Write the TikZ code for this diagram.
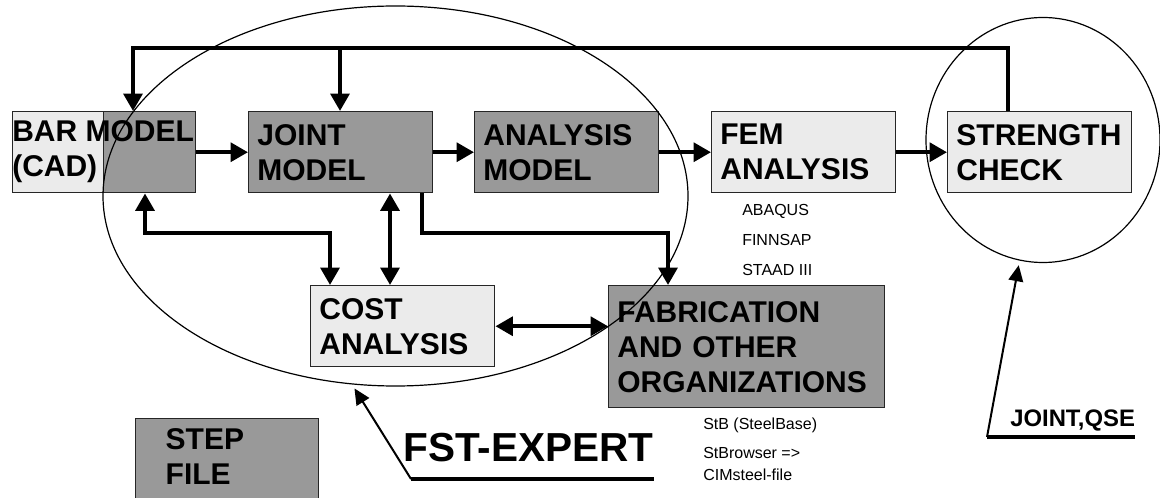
\documentclass[tikz,border=0pt]{standalone}
\usepackage{fontspec}
\setmainfont{Liberation Sans}
\usetikzlibrary{arrows.meta,shapes.geometric}
\definecolor{boxdark}{gray}{0.6}
\definecolor{boxlight}{gray}{0.92}
\newcommand\boxfont{\fontsize{22.5}{26.25}\selectfont\bfseries}
\newcommand\notefont{\fontsize{12}{14}\selectfont}

\begin{document}
\begin{tikzpicture}[x=0.75pt, y=-0.75pt, >={Triangle[length=13pt,width=14pt]},
  box/.style={draw=black!85, line width=1.1pt, anchor=north west, minimum height=60.75pt,
    inner xsep=6.5pt, inner ysep=0pt, text width=125pt, align=left, font=\boxfont},
  lbox/.style={box, fill=boxlight},
  dbox/.style={box, fill=boxdark},
  flow/.style={line width=3pt},
  zone/.style={draw, ellipse, line width=0.9pt, inner sep=0pt},
  note/.style={anchor=base west, inner sep=0pt, font=\notefont},
  callout/.style={line width=1.5pt, -{Triangle[length=12pt,width=11pt]}, shorten >=3.5pt},
  uline/.style={line width=2.5pt}]
\useasboundingbox (0,0) rectangle (1160,498);
\clip (0,0) rectangle (1160,498);
% upper row
\node[lbox, text width=68.25pt, inner xsep=0pt] (barcad) at (12,111) {};
\node[dbox, text width=69pt, inner xsep=0pt] (barmodel) at (103,111) {};
\node[anchor=north west, inner sep=0pt, align=left, font=\boxfont] (bartext) at (12,120) {BAR MODEL\\(CAD)};
\node[dbox] (joint) at (248,111) {JOINT\\MODEL};
\node[dbox] (anamodel) at (474,111) {ANALYSIS\\MODEL};
\node[lbox] (fem) at (711,111) {FEM\\ANALYSIS};
\node[lbox] (strength) at (947,111) {STRENGTH\\CHECK};
% lower row
\node[lbox] (cost) at (310,285) {COST\\ANALYSIS};
\node[dbox, text width=194pt, minimum height=91.5pt] (fab) at (608,285) {FABRICATION\\AND OTHER\\ORGANIZATIONS};
\node[dbox, inner xsep=22.5pt, text width=92pt, inner ysep=7.5pt, minimum height=0pt, text depth=60pt] (step) at (135,418) {STEP\\FILE};
% program names
\node[note] (abaqus) at (742,216) {ABAQUS};
\node[note] (finnsap) at (742,246) {FINNSAP};
\node[note] (staad) at (742,276) {STAAD III};
\node[note] (stb) at (703,430) {StB (SteelBase)};
\node[note] (stbrowser) at (703,459) {StBrowser =>};
\node[note] (cimsteel) at (703,481) {CIMsteel-file};
% flows
\draw[flow,->] (barmodel.east) -- (joint.west);
\draw[flow,->] (joint.east) -- (anamodel.west);
\draw[flow,->] (anamodel.east) -- (fem.west);
\draw[flow,->] (fem.east) -- (strength.west);
\coordinate (topR) at (1008,48);
\coordinate (topL) at (133,48);
\coordinate (topJ) at (340,48);
\draw[flow,->] (topR |- strength.north) -- (topR) -- (topL) -- (topL |- barmodel.north);
\draw[flow,->] (topJ) -- (topJ |- joint.north);
\coordinate (lowL) at (145,233);
\coordinate (lowC) at (330,233);
\coordinate (lowJ) at (422,233);
\coordinate (lowF) at (668,233);
\coordinate (jc) at (390,233);
\draw[flow,<->] (lowL |- barmodel.south) -- (lowL) -- (lowC) -- (lowC |- cost.north);
\draw[flow,<->] (jc |- joint.south) -- (jc |- cost.north);
\draw[flow,->] (lowJ |- joint.south) -- (lowJ) -- (lowF) -- (lowF |- fab.north);
\draw[flow,<->] (cost.east) -- (cost.east -| fab.west);
% zones
\node[zone, minimum width=438.75pt, minimum height=285pt] (fstzone) at (395.5,196) {};
\node[zone, minimum width=175.5pt, minimum height=183.75pt] (checkzone) at (1043,140) {};
\node[anchor=base west, inner sep=0pt, font=\fontsize{30.4}{36}\selectfont\bfseries] (fstlabel) at (403,462) {FST-EXPERT};
\node[anchor=base west, inner sep=0pt, font=\fontsize{17.9}{21}\selectfont\bfseries] (qselabel) at (1010,427) {JOINT,QSE};
\coordinate (fstfoot) at (411,479);
\coordinate (qsefoot) at (987,437);
\draw[callout] (fstfoot) -- (fstzone.257);
\draw[uline] (fstfoot) -- (fstfoot -| fstlabel.east);
\draw[callout] (qsefoot) -- (checkzone.259);
\draw[uline] (qsefoot) -- (qsefoot -| qselabel.east);
\end{tikzpicture}
\end{document}
